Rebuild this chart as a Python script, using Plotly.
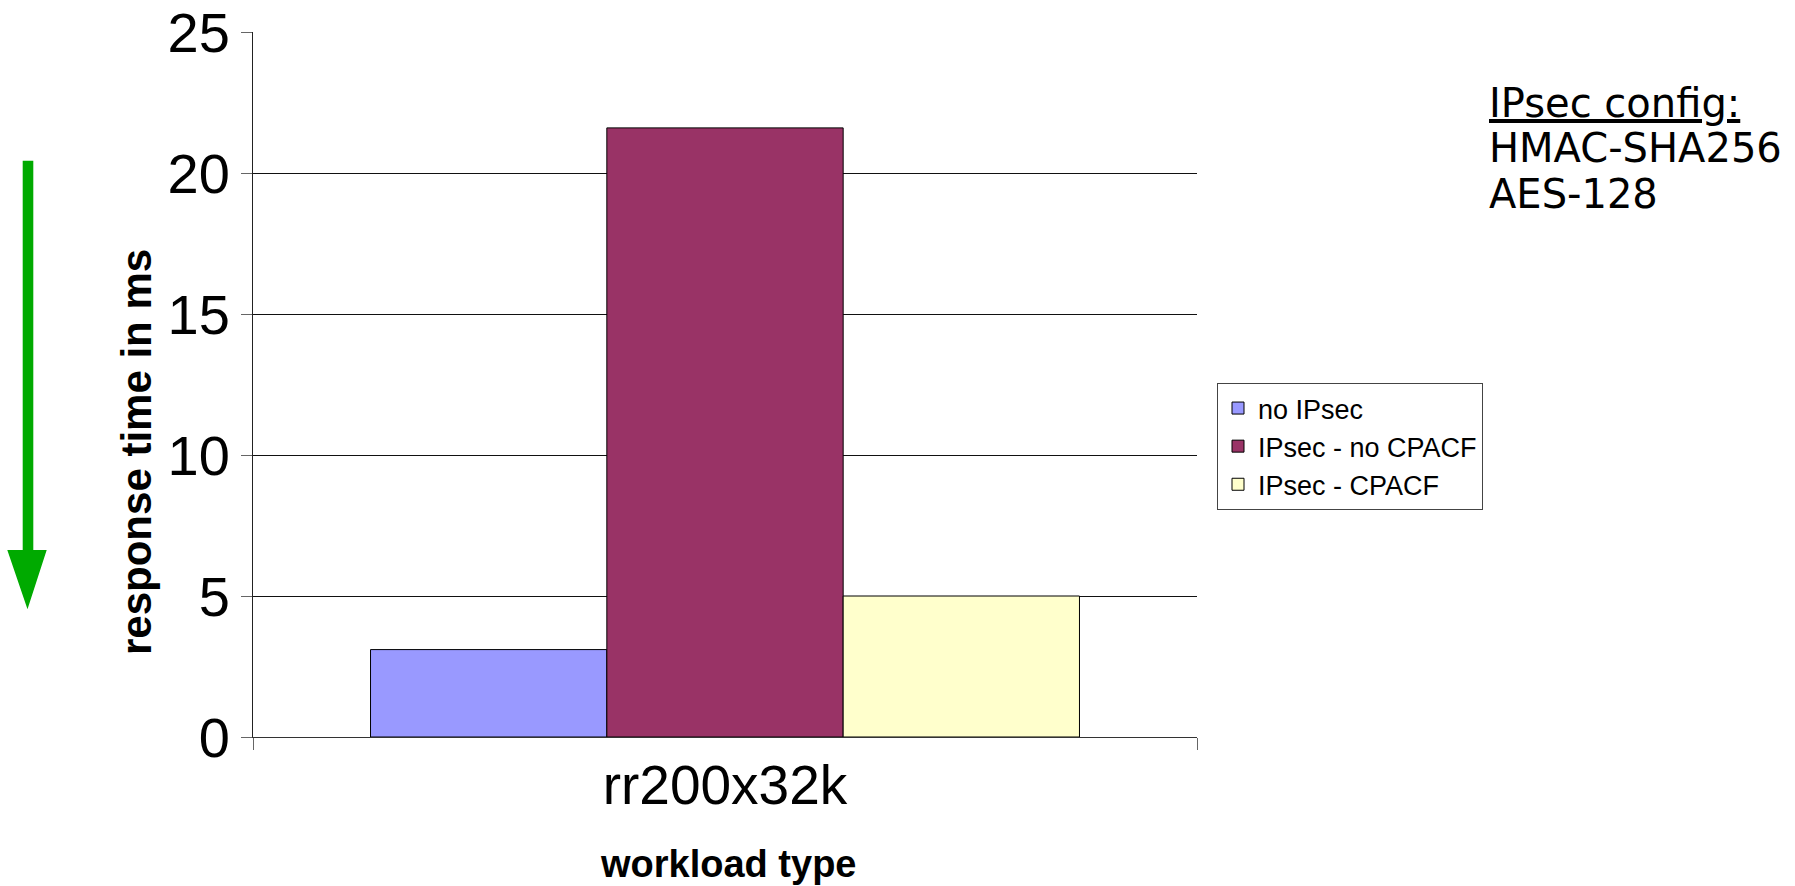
import plotly.graph_objects as go

# Data
categories = ["rr200x32k"]
series_names = ["no IPsec", "IPsec - no CPACF", "IPsec - CPACF"]
no_ipsec = [3.1]
ipsec_no_cpacf = [21.6]
ipsec_cpacf = [5.0]
series_colors = ["#9999FF", "#993366", "#FFFFCC"]
y_ticks = [0, 5, 10, 15, 20, 25]
config_lines = ["<u>IPsec config:</u>", "HMAC-SHA256", "AES-128"]

# Canvas and plot-area geometry (pixels)
W, H = 1795, 886
ML, MR, MT, MB = 253, 598, 32, 149
PW = W - ML - MR
PH = H - MT - MB


def px(x):
    return (x - ML) / PW


def py(y):
    return (H - MB - y) / PH


fig = go.Figure()
for name, vals, col in zip(series_names, [no_ipsec, ipsec_no_cpacf, ipsec_cpacf], series_colors):
    fig.add_trace(go.Bar(
        x=categories, y=vals, name=name,
        marker=dict(color=col, line=dict(color="black", width=1)),
    ))

base_font = "Liberation Sans, Arial, sans-serif"

fig.update_layout(
    width=W, height=H,
    margin=dict(l=ML, r=MR, t=MT, b=MB, pad=0, autoexpand=False),
    paper_bgcolor="white", plot_bgcolor="white",
    barmode="group", bargap=0.249, bargroupgap=0,
    font=dict(family=base_font, color="black"),
    legend=dict(
        x=px(1217), y=py(383), xanchor="left", yanchor="top",
        bgcolor="white", bordercolor="#444444", borderwidth=1,
        font=dict(family=base_font, size=27, color="black"),
        traceorder="normal",
    ),
    xaxis=dict(
        range=[-0.5, 0.5], showline=True, linecolor="#333333", linewidth=1,
        ticks="outside", tickson="boundaries", ticklen=12, tickcolor="#666666",
        tickfont=dict(family=base_font, size=55), showgrid=False, zeroline=False,
        automargin=False,
    ),
    yaxis=dict(
        range=[0, 25], tickvals=y_ticks, showline=True, linecolor="#222222", linewidth=1,
        ticks="outside", ticklen=11, tickcolor="#666666",
        tickfont=dict(family=base_font, size=56),
        showgrid=True, gridcolor="#111111", gridwidth=1, zeroline=False,
        automargin=False,
    ),
)

# Axis titles
fig.add_annotation(
    text="<b>response time in ms</b>", textangle=-90,
    x=px(136), y=py(452), xref="paper", yref="paper",
    xanchor="center", yanchor="middle", showarrow=False,
    font=dict(family=base_font, size=42, color="black"),
)
fig.add_annotation(
    text="<b>workload type</b>",
    x=px(728), y=py(864), xref="paper", yref="paper",
    xanchor="center", yanchor="middle", showarrow=False,
    font=dict(family=base_font, size=38, color="black"),
)

# Configuration note
for line, yc in zip(config_lines, [103, 148, 194]):
    fig.add_annotation(
        text=line, x=px(1487), y=py(yc), xref="paper", yref="paper",
        xanchor="left", yanchor="middle", showarrow=False,
        font=dict(family="DejaVu Sans, sans-serif", size=40, color="black"),
    )

# Green downward arrow ("lower is better")
sx0, sx1, s_top, s_bot = 22.7, 33.3, 160.7, 550
hx0, hx1, tip_x, tip_y = 7.3, 46.7, 27.5, 609.3
pts = [(sx0, s_top), (sx0, s_bot), (hx0, s_bot), (tip_x, tip_y),
       (hx1, s_bot), (sx1, s_bot), (sx1, s_top)]
path = "M " + " L ".join(f"{px(a):.5f},{py(b):.5f}" for a, b in pts) + " Z"
fig.add_shape(type="path", path=path, xref="paper", yref="paper",
              fillcolor="#00AA00", line=dict(width=0))

fig.write_html("out.html")
